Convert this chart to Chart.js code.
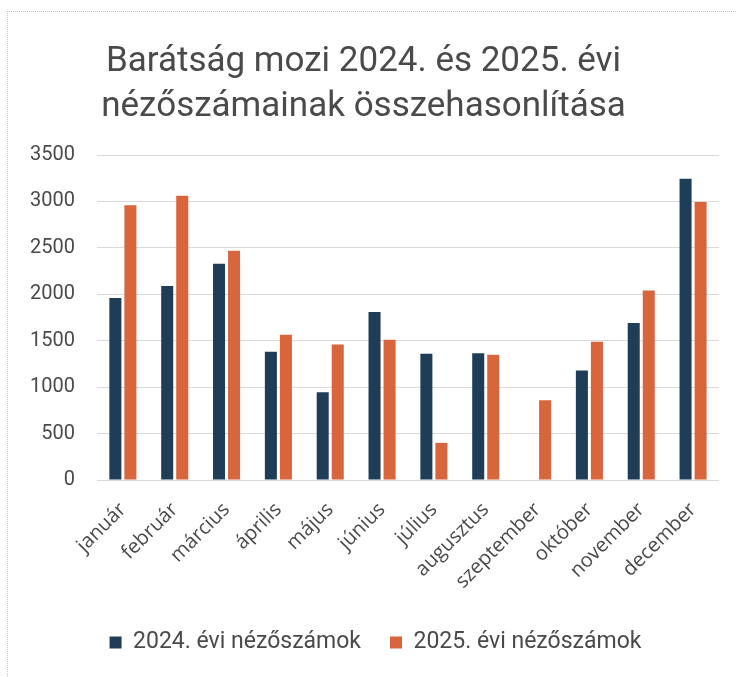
<!DOCTYPE html>
<html>
<head>
<meta charset="utf-8">
<script src="https://cdn.jsdelivr.net/npm/chart.js@4/dist/chart.umd.min.js"></script>
<style>
  html, body { margin: 0; padding: 0; background: #fff; }
  #wrap { position: relative; width: 737px; height: 677px; overflow: hidden; }
  #frame { position: absolute; left: 7px; top: 11px; width: 760px; height: 700px; border-left: 1px dotted #c8c8c8; border-top: 1px dotted #c8c8c8; }
  canvas { position: absolute; left: 0; top: 0; }
</style>
</head>
<body>
<div id="wrap">
  <div id="frame"></div>
  <canvas id="c" width="737" height="677"></canvas>
</div>
<script>
const categories = ["január", "február", "március", "április", "május", "június", "július", "augusztus", "szeptember", "október", "november", "december"];
const series2024 = [1960, 2090, 2330, 1380, 945, 1810, 1360, 1365, 0, 1180, 1690, 3245];
const series2025 = [2960, 3060, 2470, 1565, 1460, 1510, 400, 1350, 860, 1490, 2040, 2995];
const seriesNames = ["2024. évi nézőszámok", "2025. évi nézőszámok"];
const yTicks = [0, 500, 1000, 1500, 2000, 2500, 3000, 3500];
const titleLines = ["Barátság mozi 2024. és 2025. évi", "nézőszámainak összehasonlítása"];

const FONT = "'Roboto', sans-serif";
const XFONT = "'Open Sans', 'Roboto', sans-serif";
const TXT = '#4a4a4a';

const legendShift = {
  id: 'legendShift',
  beforeDraw(chart) {
    if (!chart.legend._shifted) {
      chart.legend.left += 12;
      chart.legend.right += 12;
      chart.legend._shifted = true;
    }
  }
};

new Chart(document.getElementById('c'), {
  type: 'bar',
  data: {
    labels: categories,
    datasets: [
      { label: seriesNames[0], data: series2024, backgroundColor: '#1f3d57', barPercentage: 0.8, categoryPercentage: 0.58 },
      { label: seriesNames[1], data: series2025, backgroundColor: '#d8653c', barPercentage: 0.8, categoryPercentage: 0.58 }
    ]
  },
  plugins: [legendShift],
  options: {
    responsive: false,
    animation: false,
    layout: { padding: { left: 8, right: 18, top: 39, bottom: 13 } },
    plugins: {
      title: {
        display: true,
        text: titleLines,
        color: TXT,
        font: { family: FONT, size: 35, weight: 'normal', lineHeight: 1.3 },
        padding: { top: 0, bottom: 25 }
      },
      legend: {
        position: 'bottom',
        labels: {
          color: TXT,
          font: { family: FONT, size: 23 },
          boxWidth: 12, boxHeight: 12,
          padding: 29
        }
      },
      tooltip: { enabled: false }
    },
    scales: {
      x: {
        grid: { display: false },
        border: { display: false },
        afterFit: (s) => { s.height = 122; },
        ticks: {
          color: TXT,
          font: { family: XFONT, size: 20 },
          minRotation: 45, maxRotation: 45,
          padding: 10
        }
      },
      y: {
        min: 0, max: 3500,
        afterBuildTicks: (s) => { s.ticks = yTicks.map(v => ({ value: v })); },
        grid: { color: '#d9d9d9', drawTicks: false },
        border: { display: false },
        ticks: {
          color: TXT,
          font: { family: FONT, size: 20 },
          padding: 22,
          callback: (v) => String(v)
        }
      }
    }
  }
});
</script>
</body>
</html>
